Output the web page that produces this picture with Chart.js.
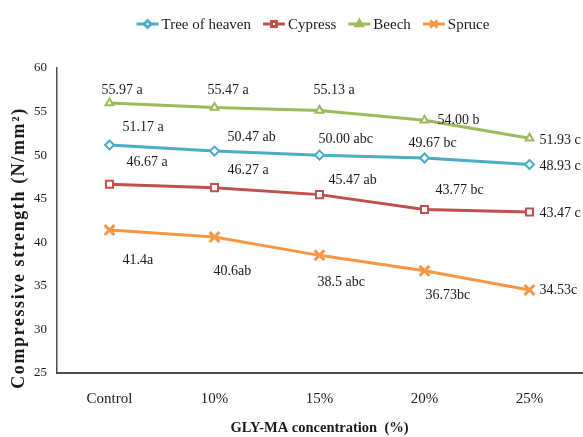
<!DOCTYPE html>
<html>
<head>
<meta charset="utf-8">
<script src="https://cdn.jsdelivr.net/npm/chart.js@4.4.1/dist/chart.umd.min.js"></script>
<style>
  html, body { margin: 0; padding: 0; background: #fff; }
  #wrap { width: 583px; height: 437px; }
</style>
</head>
<body>
<div id="wrap"><canvas id="chart" width="583" height="437"></canvas></div>
<script>
// --- Datos ---
const concentrations = ["Control", "10%", "15%", "20%", "25%"];

const treeOfHeaven = [51.17, 50.47, 50.00, 49.67, 48.93];
const cypress      = [46.67, 46.27, 45.47, 43.77, 43.47];
const beech        = [55.97, 55.47, 55.13, 54.00, 51.93];
const spruce       = [41.4, 40.6, 38.5, 36.73, 34.53];

const treeLabels    = ["51.17 a", "50.47 ab", "50.00 abc", "49.67 bc", "48.93 c"];
const cypressLabels = ["46.67 a", "46.27 a", "45.47 ab", "43.77 bc", "43.47 c"];
const beechLabels   = ["55.97 a", "55.47 a", "55.13 a", "54.00 b", "51.93 c"];
const spruceLabels  = ["41.4a", "40.6ab", "38.5 abc", "36.73bc", "34.53c"];

const yTicks = [25, 30, 35, 40, 45, 50, 55, 60];

// posicion de cada etiqueta respecto a su punto (borde izq, centro vertical)
const labelOffsets = [
  [[13, -18], [13, -14], [-1, -16], [-16, -15], [10, 2]],
  [[17, -22], [13, -17], [9, -14], [11, -19], [10, 1]],
  [[-8, -13], [-7, -17], [-6, -20], [13, 0], [10, 2]],
  [[13, 30], [-1, 34], [-2, 27], [1, 25], [10, 0]]
];

const SERIF = "'Liberation Serif', 'Times New Roman', serif";
const TEXT = "#1a1a1a";

function makeSeries(label, data, texts, color, style, radius, bw) {
  return {
    label: label,
    data: data,
    pointLabels: texts,
    borderColor: color,
    backgroundColor: "#ffffff",
    borderWidth: 3,
    pointStyle: style,
    pointRadius: radius,
    pointBorderWidth: bw,
    pointBorderColor: color,
    pointBackgroundColor: "#ffffff",
    tension: 0
  };
}

const datasets = [
  makeSeries("Tree of heaven", treeOfHeaven, treeLabels, "#4bacc6", "rectRot", 4.5, 2),
  makeSeries("Cypress", cypress, cypressLabels, "#c0504d", "rect", 5, 2),
  makeSeries("Beech", beech, beechLabels, "#9bbb59", "triangle", 4.5, 2),
  makeSeries("Spruce", spruce, spruceLabels, "#f79646", "crossRot", 7, 3)
];

// --- Etiquetas de datos ---
const pointLabelPlugin = {
  id: "pointLabels",
  afterDatasetsDraw(chart) {
    const ctx = chart.ctx;
    ctx.save();
    ctx.font = "14px " + SERIF;
    ctx.fillStyle = TEXT;
    ctx.textAlign = "left";
    ctx.textBaseline = "middle";
    chart.data.datasets.forEach((ds, di) => {
      const meta = chart.getDatasetMeta(di);
      meta.data.forEach((pt, i) => {
        const off = labelOffsets[di][i];
        ctx.fillText(ds.pointLabels[i], pt.x + off[0], pt.y + off[1]);
      });
    });
    ctx.restore();
  }
};

// --- Leyenda con linea + marcador ---
const lineLegendPlugin = {
  id: "lineLegend",
  afterDraw(chart) {
    const ctx = chart.ctx;
    ctx.save();
    ctx.font = "15px " + SERIF;
    const lineW = 22, gap = 3, itemGap = 12, y = 24;
    const widths = chart.data.datasets.map(ds => lineW + gap + ctx.measureText(ds.label).width);
    const total = widths.reduce((a, b) => a + b, 0) + itemGap * (widths.length - 1);
    let x = 313 - total / 2;
    chart.data.datasets.forEach((ds, i) => {
      ctx.strokeStyle = ds.borderColor;
      ctx.lineWidth = 3;
      ctx.beginPath();
      ctx.moveTo(x, y);
      ctx.lineTo(x + lineW, y);
      ctx.stroke();
      ctx.fillStyle = "#ffffff";
      ctx.strokeStyle = ds.borderColor;
      Chart.helpers.drawPoint(ctx, {
        pointStyle: ds.pointStyle,
        radius: ds.pointStyle === "crossRot" ? 5 : 3.5,
        borderWidth: ds.pointStyle === "crossRot" ? 2.5 : 2,
        rotation: 0
      }, x + lineW / 2, y);
      ctx.fillStyle = TEXT;
      ctx.textAlign = "left";
      ctx.textBaseline = "middle";
      ctx.fillText(ds.label, x + lineW + gap, y + 1);
      x += widths[i] + itemGap;
    });
    ctx.restore();
  }
};

// --- Titulo eje Y ---
const yTitlePlugin = {
  id: "yTitle",
  afterDraw(chart) {
    const ctx = chart.ctx;
    ctx.save();
    ctx.translate(19, 248);
    ctx.rotate(-Math.PI / 2);
    ctx.font = "bold 18px " + SERIF;
    if ("letterSpacing" in ctx) ctx.letterSpacing = "1.6px";
    ctx.fillStyle = TEXT;
    ctx.textAlign = "center";
    ctx.textBaseline = "middle";
    ctx.fillText("Compressive strength (N/mm\u00b2)", 0, 0);
    ctx.restore();
  }
};

new Chart(document.getElementById("chart"), {
  type: "line",
  data: { labels: concentrations, datasets: datasets },
  options: {
    responsive: false,
    animation: false,
    events: [],
    layout: { autoPadding: false, padding: { top: 68, right: 1, left: 0, bottom: 0 } },
    plugins: {
      legend: { display: false },
      tooltip: { enabled: false }
    },
    scales: {
      x: {
        offset: true,
        grid: { display: false, drawTicks: false, offset: true },
        border: { display: true, color: "#4d4d4d", width: 2 },
        ticks: {
          color: TEXT,
          font: { family: SERIF, size: 15 },
          padding: 17,
          maxRotation: 0
        },
        title: {
          display: true,
          text: "GLY-MA concentration  (%)",
          color: TEXT,
          font: { family: SERIF, size: 14.5, weight: "bold" },
          padding: { top: 0, bottom: 0 }
        },
        afterFit(scale) {
          scale.height = 64;
          scale.paddingLeft = 0;
          scale.paddingRight = 0;
        }
      },
      y: {
        min: yTicks[0],
        max: yTicks[yTicks.length - 1],
        afterBuildTicks(scale) { scale.ticks = yTicks.map(v => ({ value: v })); },
        grid: { display: false, drawTicks: false },
        border: { display: true, color: "#4d4d4d", width: 1.5 },
        ticks: {
          color: TEXT,
          font: { family: SERIF, size: 13 },
          padding: 10
        },
        afterFit(scale) { scale.width = 57; }
      }
    }
  },
  plugins: [pointLabelPlugin, lineLegendPlugin, yTitlePlugin]
});
</script>
</body>
</html>
